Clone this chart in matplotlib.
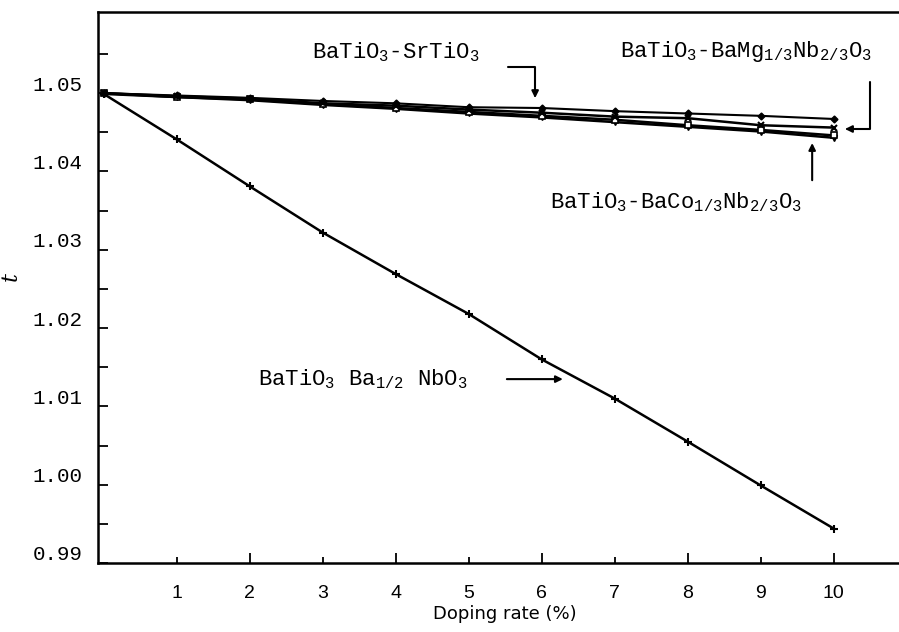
import matplotlib
matplotlib.use("Agg")
import matplotlib.pyplot as plt
import matplotlib.transforms as mtrans

plt.rcParams['mathtext.fontset'] = 'custom'
plt.rcParams['mathtext.rm'] = 'Liberation Mono'
plt.rcParams['mathtext.it'] = 'Liberation Mono:italic'
plt.rcParams['mathtext.bf'] = 'Liberation Mono:bold'

# ---- data ----
doping = [0, 1, 2, 3, 4, 5, 6, 7, 8, 9, 10]
t_ba_nb = [1.0499, 1.0441, 1.0381, 1.0322, 1.0269, 1.0218, 1.0160, 1.0110, 1.0055, 0.9999, 0.9944]
t_sr = [1.0500, 1.0497, 1.0494, 1.0490, 1.0487, 1.0482, 1.0481, 1.0477, 1.0474, 1.0471, 1.0467]
t_mg = [1.0500, 1.0496, 1.0493, 1.0487, 1.0484, 1.0479, 1.0475, 1.0470, 1.0468, 1.0459, 1.0456]
t_co = [1.0500, 1.0495, 1.0492, 1.0486, 1.0481, 1.0476, 1.0471, 1.0466, 1.0459, 1.0453, 1.0446]
t_band = [1.0499, 1.0495, 1.0491, 1.0485, 1.0480, 1.0474, 1.0469, 1.0463, 1.0457, 1.0451, 1.0443]

x_major = [2, 4, 6, 8, 10]
x_minor = [1, 3, 5, 7, 9]
y_major = [0.99, 1.00, 1.01, 1.02, 1.03, 1.04, 1.05]
y_major_labels = ['0.99', '1.00', '1.01', '1.02', '1.03', '1.04', '1.05']
y_minor = [0.995, 1.005, 1.015, 1.025, 1.035, 1.045, 1.055]

lbl_sr = 'BaTiO$_3$-SrTiO$_3$'
lbl_mg = 'BaTiO$_3$-BaMg$_{1/3}$Nb$_{2/3}$O$_3$'
lbl_co = 'BaTiO$_3$-BaCo$_{1/3}$Nb$_{2/3}$O$_3$'
lbl_nb = 'BaTiO$_3$ Ba$_{1/2}$ NbO$_3$'

fig = plt.figure(figsize=(8.99, 6.32), dpi=100)
ax = fig.add_axes([0.109, 0.1092, 0.8977, 0.8723])

lw = 1.8
ax.plot(doping, t_ba_nb, color='black', lw=lw, marker='+', ms=6, mew=1.5)
ax.plot(doping, t_band, color='black', lw=lw, marker='v', ms=4)
ax.plot(doping, t_co, color='black', lw=lw, marker='s', ms=4, mfc='white', mew=1.2)
ax.plot(doping, t_mg, color='black', lw=lw, marker='x', ms=5, mew=1.5)
ax.plot(doping, t_sr, color='black', lw=1.5, marker='D', ms=3.5)

ax.set_xlim(-0.078, 10.977)
ax.set_ylim(0.99, 1.0604)

ax.set_xticks(x_major)
ax.set_xticklabels([str(v) for v in x_major])
ax.set_xticks(x_minor, minor=True)
ax.set_xticklabels([str(v) for v in x_minor], minor=True)
ax.set_yticks(y_major)
ax.set_yticklabels(y_major_labels)
ax.set_yticks(y_minor, minor=True)

ax.tick_params(axis='x', which='major', direction='in', length=7, width=1.3, pad=16,
               labelsize=14, bottom=True, top=False)
ax.tick_params(axis='x', which='minor', direction='in', length=4, width=1.3, pad=16,
               labelsize=14, bottom=True, top=False)
ax.tick_params(axis='y', which='both', direction='in', length=7, width=1.3, pad=11,
               left=True, right=False)
for lab in ax.get_xticklabels() + ax.get_xticklabels(minor=True):
    lab.set_fontfamily('Liberation Sans')
for lab in ax.get_yticklabels():
    lab.set_fontfamily('Liberation Mono')
    lab.set_fontsize(15)
    lab.set_transform(lab.get_transform() +
                      mtrans.ScaledTranslation(0, 10 / 100, fig.dpi_scale_trans))

for side in ['left', 'bottom', 'top']:
    ax.spines[side].set_linewidth(1.8)
ax.spines['right'].set_visible(False)

ax.set_xlabel('Doping rate (%)', fontsize=13, family='DejaVu Sans')
ax.xaxis.set_label_coords(0.504, -0.076)
ax.set_ylabel('t', fontsize=16, style='italic', family='DejaVu Serif')
ax.yaxis.set_label_coords(-0.094, 0.52)

tfont = dict(fontsize=16, family='Liberation Mono', va='baseline', ha='left')
ax.text(2.853, 1.05448, lbl_sr, **tfont)
ax.text(7.07, 1.05461, lbl_mg, **tfont)
ax.text(6.114, 1.03533, lbl_co, **tfont)
ax.text(2.114, 1.01272, lbl_nb, **tfont)

ap = dict(arrowstyle='-|>', color='black', lw=1.5, mutation_scale=10, shrinkA=0, shrinkB=0)
ax.annotate('', xy=(5.91, 1.04937), xytext=(5.54, 1.05333),
            arrowprops=dict(ap, connectionstyle='angle,angleA=0,angleB=90,rad=0'))
ax.annotate('', xy=(10.155, 1.04542), xytext=(10.497, 1.05140),
            arrowprops=dict(ap, connectionstyle='angle,angleA=90,angleB=0,rad=0'),
            annotation_clip=False)
ax.annotate('', xy=(9.705, 1.04363), xytext=(9.705, 1.03888), arrowprops=ap)
ax.annotate('', xy=(6.29, 1.01348), xytext=(5.523, 1.01348), arrowprops=ap)

fig.savefig('out.png', dpi=100)
